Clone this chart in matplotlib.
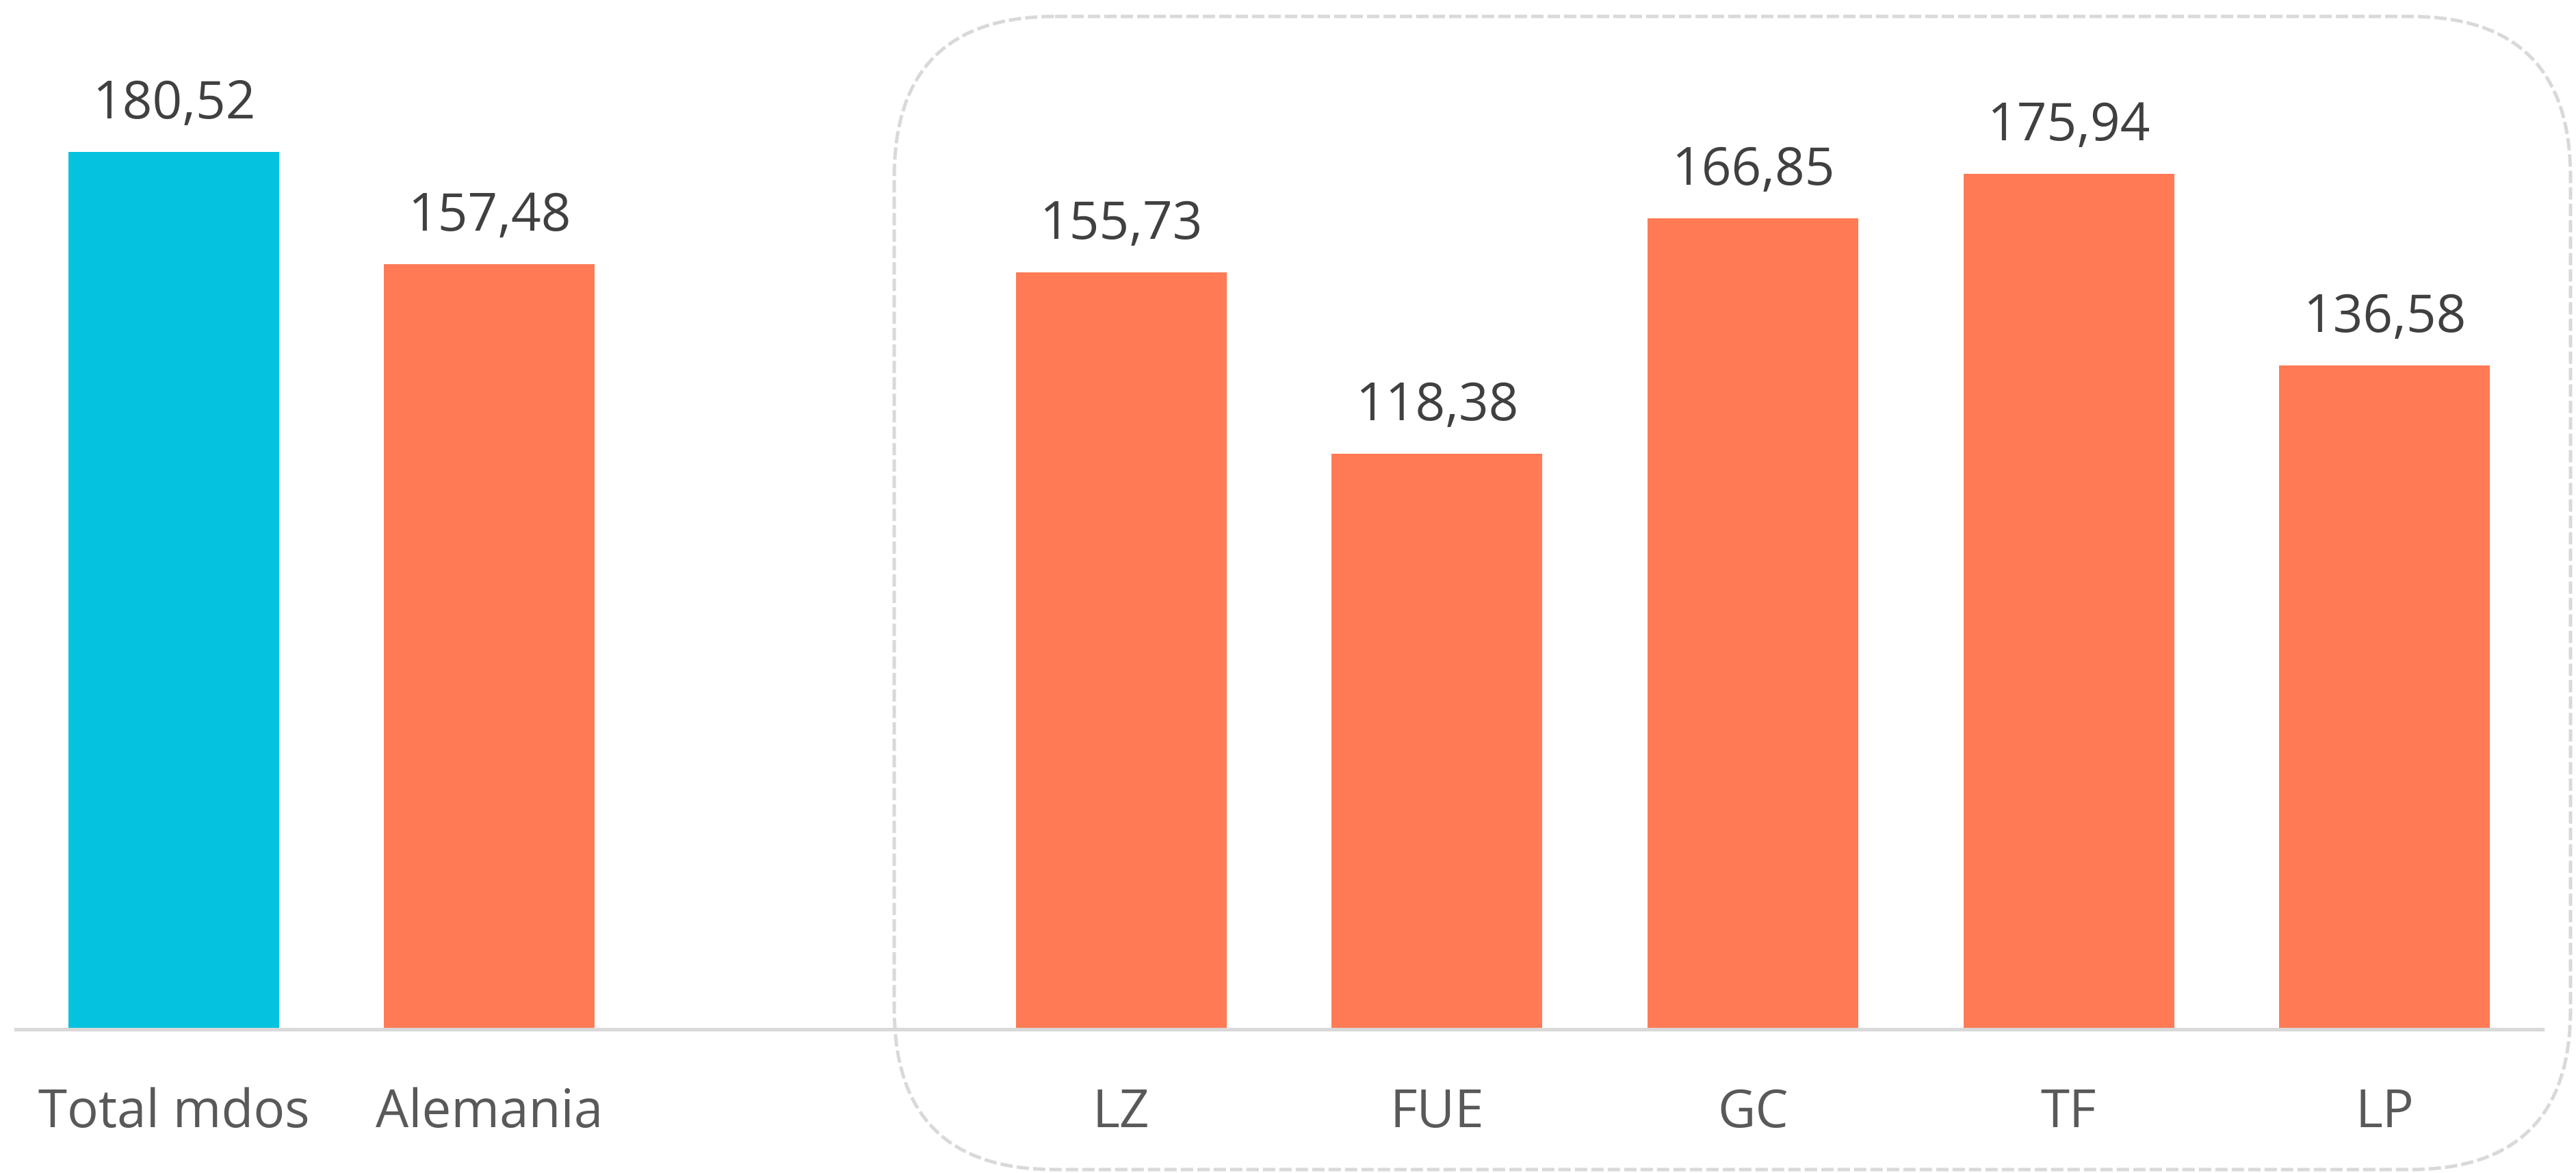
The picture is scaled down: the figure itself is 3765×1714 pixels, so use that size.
import matplotlib
matplotlib.use("Agg")
import matplotlib.pyplot as plt
import numpy as np
from matplotlib.patches import FancyBboxPatch

# datos
categorias = ["Total mdos", "Alemania", "LZ", "FUE", "GC", "TF", "LP"]
valores = [180.52, 157.48, 155.73, 118.38, 166.85, 175.94, 136.58]
colores = ["#05C3DE", "#FF7A55", "#FF7A55", "#FF7A55", "#FF7A55", "#FF7A55", "#FF7A55"]

plt.rcParams["font.family"] = ["Open Sans", "DejaVu Sans"]

W, H = 3765, 1715
fig = plt.figure(figsize=(W / 100, H / 100), dpi=100)

# eje principal (hueco entre Alemania y las islas)
x = np.arange(len(categorias)).astype(float)
x[2:] += 1

ax = fig.add_axes([23 / W, (H - 1505) / H, 3693 / W, 1505 / H])
ax.bar(x, valores, width=0.667, color=colores, zorder=2)
ax.set_xlim(-0.5, 7.5)
ax.set_ylim(0, 211.9)

for xi, v in zip(x, valores):
    ax.annotate(f"{v:.2f}".replace(".", ","), (xi, v), xytext=(0, 36),
                textcoords="offset points", ha="center", va="baseline",
                fontsize=55, color="#404040")

ax.set_xticks(x)
ax.set_xticklabels(categorias, fontsize=55, color="#595959")
ax.tick_params(axis="x", length=0, pad=60)
ax.set_yticks([])
for s in ["top", "left", "right"]:
    ax.spines[s].set_visible(False)
ax.spines["bottom"].set_color("#D9D9D9")
ax.spines["bottom"].set_linewidth(3.8)
ax.patch.set_visible(False)

# recuadro redondeado discontinuo alrededor de las islas
ov = fig.add_axes([0, 0, 1, 1], zorder=-1)
ov.set_xlim(0, W)
ov.set_ylim(H, 0)
ov.axis("off")
caja = FancyBboxPatch((1307, 25), 2450, 1685,
                      boxstyle="round,pad=0,rounding_size=235",
                      facecolor="none", edgecolor="#D9D9D9",
                      linewidth=3.6, linestyle=(0, (3.6, 1.2)))
ov.add_patch(caja)

fig.savefig("out.png", dpi=100, facecolor="white")
